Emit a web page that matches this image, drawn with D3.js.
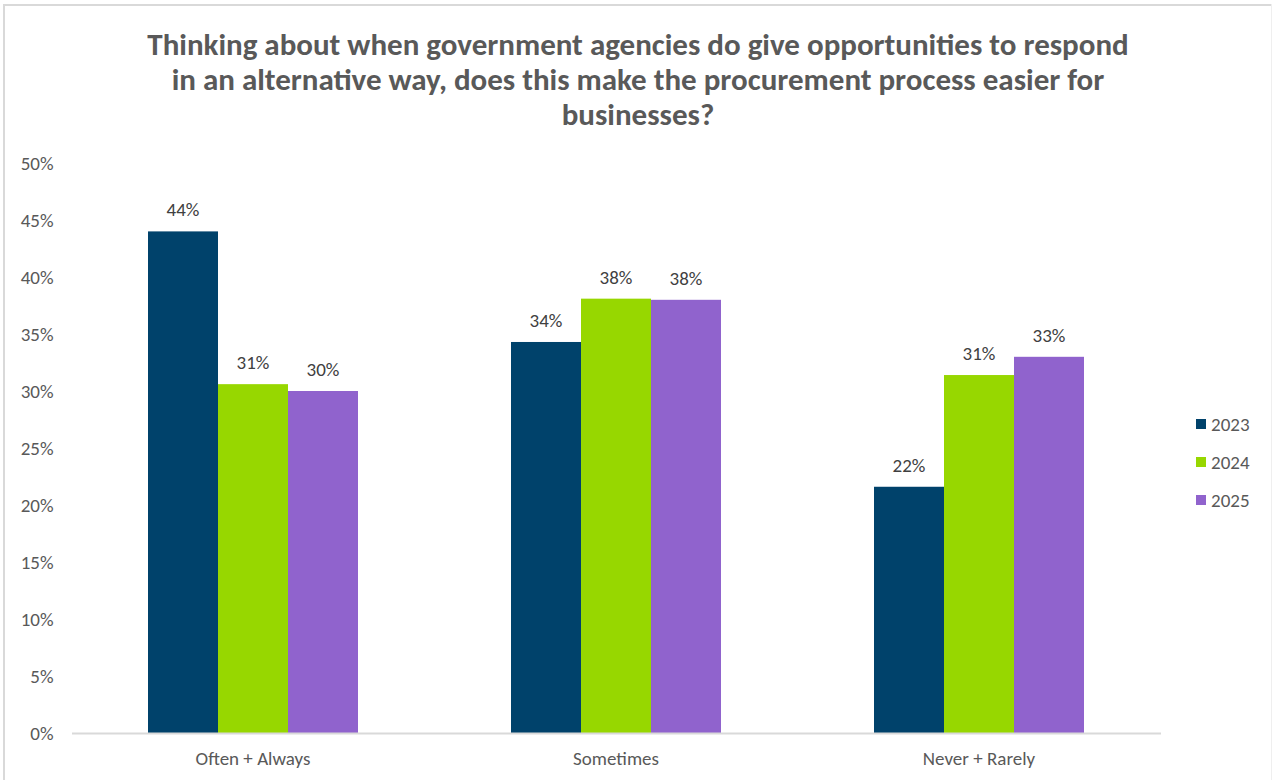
<!DOCTYPE html>
<html>
<head>
<meta charset="utf-8">
<script src="https://cdn.jsdelivr.net/npm/d3@7"></script>
<style>
  html, body { margin: 0; padding: 0; background: #fff; }
  svg { display: block; font-family: Carlito, Calibri, "Liberation Sans Narrow", "Open Sans", sans-serif; }
</style>
</head>
<body>
<svg id="chart" width="1272" height="780"></svg>
<script>
// Survey responses by year (percent of businesses)
const categories = ["Often + Always", "Sometimes", "Never + Rarely"];
const years = ["2023", "2024", "2025"];
const values2023 = [44.0, 34.3, 21.6];
const values2024 = [30.6, 38.1, 31.4];
const values2025 = [30.0, 38.0, 33.0];
const yTicks = [0, 5, 10, 15, 20, 25, 30, 35, 40, 45, 50];
const colors = ["#00426b", "#97d700", "#9063cd"];
const titleLines = [
  "Thinking about when government agencies do give opportunities to respond",
  "in an alternative way, does this make the procurement process easier for",
  "businesses?"
];

const series = [values2023, values2024, values2025];
const rows = categories.map((c, i) => ({
  category: c,
  values: years.map((y, j) => ({ year: y, value: series[j][i], color: colors[j] }))
}));

const svg = d3.select("#chart");
const W = 1272, H = 780;
const plot = { left: 71.5, right: 1160.5, top: 163, bottom: 733 };
const labelSize = 19;

// Chart frame
svg.append("line").attr("x1", 3).attr("x2", W).attr("y1", 5).attr("y2", 5)
  .attr("stroke", "#d9d9d9").attr("stroke-width", 2);
svg.append("line").attr("x1", 4).attr("x2", 4).attr("y1", 4).attr("y2", H)
  .attr("stroke", "#d9d9d9").attr("stroke-width", 2);
svg.append("line").attr("x1", W - 0.5).attr("x2", W - 0.5).attr("y1", 4).attr("y2", H)
  .attr("stroke", "#efefef").attr("stroke-width", 1);

// Title
svg.append("text")
  .attr("x", 638).attr("y", 55)
  .attr("text-anchor", "middle")
  .attr("font-size", 31).attr("font-weight", "bold").attr("fill", "#595959")
  .selectAll("tspan").data(titleLines).join("tspan")
  .attr("x", 638).attr("dy", (d, i) => i === 0 ? 0 : 35)
  .text(d => d);

const x0 = d3.scaleBand().domain(categories)
  .range([plot.left, plot.right]).paddingInner(0.4215).paddingOuter(0.21075);
const x1 = d3.scaleBand().domain(years).range([0, x0.bandwidth()]);
const y = d3.scaleLinear().domain([0, 50]).range([plot.bottom, plot.top]);

// Y axis labels (no line, no ticks)
const yAxis = svg.append("g").attr("transform", `translate(${plot.left - 18},0)`)
  .call(d3.axisLeft(y).tickValues(yTicks).tickSize(0).tickPadding(0).tickFormat(d => d + "%"))
  .attr("font-family", null).attr("font-size", null);
yAxis.select(".domain").remove();
yAxis.selectAll("text").attr("font-size", labelSize).attr("fill", "#595959").attr("dy", "0.35em");

// Bars
const groups = svg.append("g").selectAll("g").data(rows).join("g")
  .attr("transform", d => `translate(${x0(d.category)},0)`);
groups.selectAll("rect").data(d => d.values).join("rect")
  .attr("x", d => x1(d.year))
  .attr("y", d => y(d.value))
  .attr("width", x1.bandwidth())
  .attr("height", d => y(0) - y(d.value))
  .attr("fill", d => d.color);

// Value labels
groups.selectAll("text").data(d => d.values).join("text")
  .attr("x", d => x1(d.year) + x1.bandwidth() / 2)
  .attr("y", d => y(d.value) - 15)
  .attr("text-anchor", "middle")
  .attr("font-size", labelSize).attr("fill", "#404040")
  .text(d => Math.round(d.value) + "%");

// X axis baseline and category labels
const xAxis = svg.append("g").attr("transform", `translate(0,${plot.bottom})`)
  .call(d3.axisBottom(x0).tickSize(0).tickPadding(19))
  .attr("font-family", null).attr("font-size", null);
xAxis.select(".domain").attr("stroke", "#d9d9d9").attr("stroke-width", 2);
xAxis.selectAll("text").attr("font-size", labelSize).attr("fill", "#595959");

// Legend
const legend = svg.append("g").attr("transform", "translate(1196,424)")
  .selectAll("g").data(years).join("g")
  .attr("transform", (d, i) => `translate(0,${i * 38})`);
legend.append("rect").attr("x", 0).attr("y", -5).attr("width", 10).attr("height", 10)
  .attr("fill", (d, i) => colors[i]);
legend.append("text").attr("x", 15).attr("y", 0).attr("dy", "0.35em")
  .attr("font-size", labelSize).attr("fill", "#595959").text(d => d);
</script>
</body>
</html>
